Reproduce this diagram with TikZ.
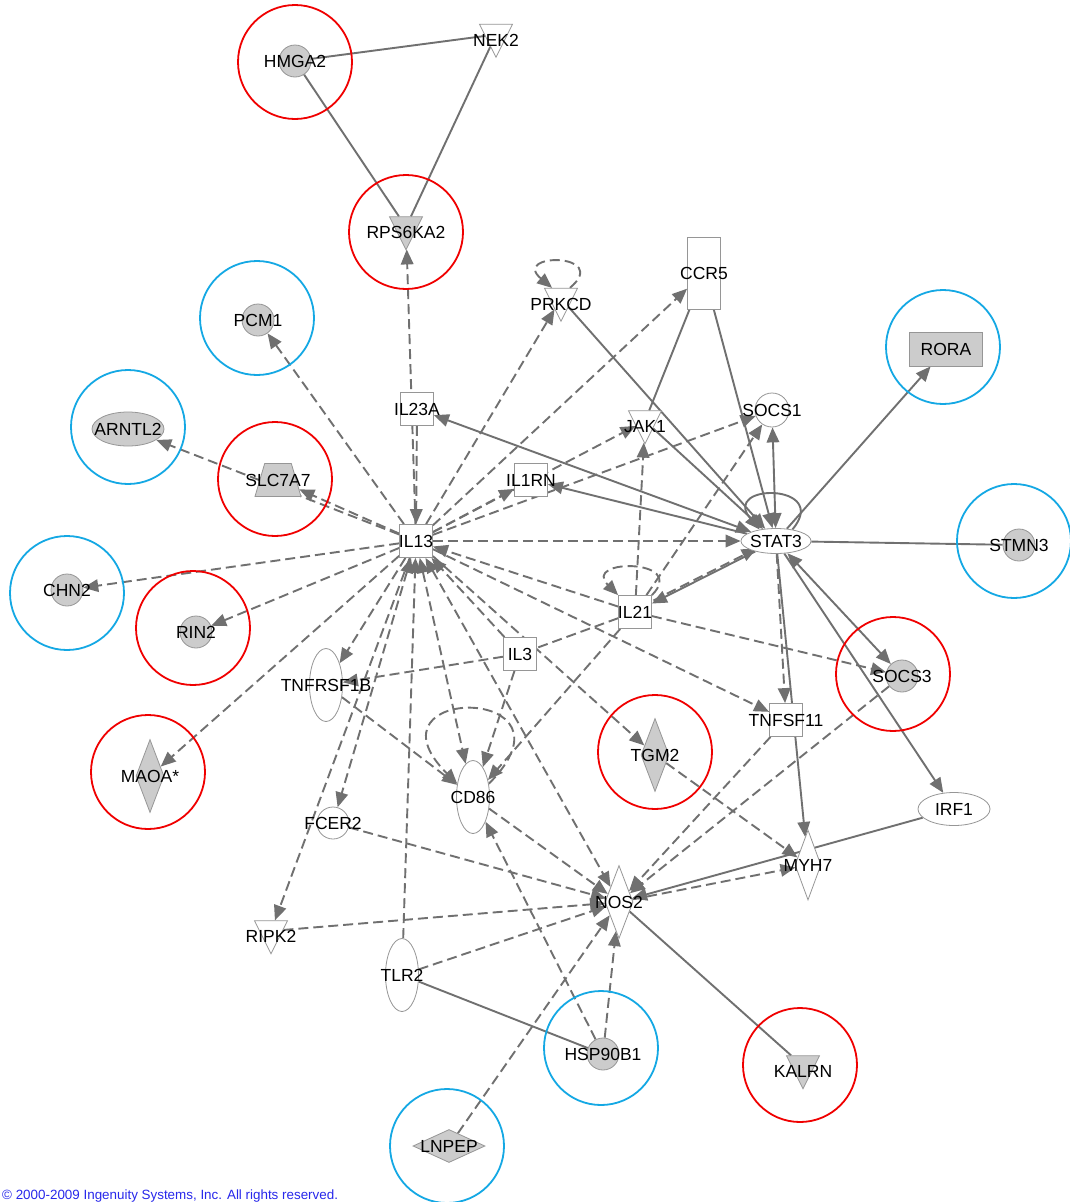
\documentclass[tikz,border=0pt]{standalone}
\usepackage{fontspec}
\setmainfont{Liberation Sans}
\usepackage{tikz}
\usetikzlibrary{arrows.meta,shapes,positioning}
\definecolor{edgegray}{RGB}{112,112,112}
\definecolor{genegray}{RGB}{204,204,204}
\definecolor{nodeline}{RGB}{150,150,150}
\definecolor{ringred}{RGB}{240,0,0}
\definecolor{ringblue}{RGB}{20,168,228}
\definecolor{copyblue}{RGB}{40,40,235}
\pgfdeclarelayer{bg}
\pgfsetlayers{bg,main}
\tikzset{
  gene/.style={draw=nodeline,line width=0.8pt,inner sep=0pt,fill=white},
  shaded/.style={fill=genegray},
  circ/.style={gene,circle,minimum size=32pt},
  box/.style={gene,rectangle,minimum size=33pt},
  tall/.style={gene,ellipse,minimum width=33pt,minimum height=73pt},
  wide/.style={gene,ellipse,minimum width=72pt,minimum height=33pt},
  tri/.style={gene,isosceles triangle,shape border rotate=270,isosceles triangle stretches,minimum width=33pt,minimum height=33pt},
  trilabel/.style={label={[yshift=-5.5pt]center:#1}},
  dia/.style={gene,diamond,minimum width=28pt,minimum height=73pt},
  trap/.style={gene,trapezium,inner sep=1pt,trapezium left angle=70,trapezium right angle=70,trapezium stretches=true,minimum width=46pt,minimum height=33pt},
  ring/.style={circle,draw,line width=1.8pt,minimum size=114pt,inner sep=0pt},
  link/.style={draw=edgegray,line width=1.9pt},
  act/.style={link,-{Triangle[length=15pt,width=12.5pt]}},
  twoway/.style={link,{Triangle[length=15pt,width=12.5pt]}-{Triangle[length=15pt,width=12.5pt]}},
  indirect/.style={dash pattern=on 10pt off 5pt}
}

\begin{document}
\begin{tikzpicture}[x=1pt,y=-1pt,font=\fontsize{17.5}{20}\selectfont]
\begin{pgfonlayer}{bg}
\fill[white](0,0)rectangle(1070,1202);
\end{pgfonlayer}
\useasboundingbox(0,0)rectangle(1070,1202);
% genes
\node[circ,shaded,label=center:HMGA2](hmga2) at (295,61){};
\node[tri,trilabel=NEK2](nek2) at (496,34.5){};
\node[tri,shaded,trilabel=RPS6KA2](rps6ka2) at (406,227){};
\node[circ,shaded,label=center:PCM1](pcm1) at (258,320){};
\node[tri,trilabel=PRKCD](prkcd) at (561,298.5){};
\node[gene,minimum width=33pt,minimum height=72pt,label=center:CCR5](ccr5) at (704,273){};
\node[gene,shaded,minimum width=73pt,minimum height=34pt,label=center:RORA](rora) at (946,349){};
\node[box,label=center:IL23A](il23a) at (417,409){};
\node[tri,trilabel=JAK1](jak1) at (645,421){};
\node[circ,minimum size=34pt,label=center:SOCS1](socs1) at (772,410){};
\node[wide,shaded,minimum height=34pt,label=center:ARNTL2](arntl2) at (128,429){};
\node[trap,shaded,label=center:SLC7A7](slc7a7) at (278,480){};
\node[box,label=center:IL1RN](il1rn) at (531,480){};
\node[box,label=center:IL13](il13) at (416,541){};
\node[gene,ellipse,minimum width=70pt,minimum height=25pt,label=center:STAT3](stat3) at (776,541){};
\node[circ,shaded,label=center:STMN3](stmn3) at (1019,545){};
\node[circ,shaded,label=center:CHN2](chn2) at (67,590){};
\node[circ,shaded,label=center:RIN2](rin2) at (196,632){};
\node[box,label=center:IL21](il21) at (635,612){};
\node[box,label=center:IL3](il3) at (520,654){};
\node[tall,label=center:TNFRSF1B](tnfrsf1b) at (326,685){};
\node[circ,shaded,label=center:SOCS3](socs3) at (902,676){};
\node[box,label=center:TNFSF11](tnfsf11) at (786,720){};
\node[dia,shaded,label=center:TGM2](tgm2) at (655,755){};
\node[dia,shaded,label=center:MAOA*](maoa) at (150,776){};
\node[tall,label=center:CD86](cd86) at (473,797){};
\node[circ,label=center:FCER2](fcer2) at (333,823){};
\node[wide,label=center:IRF1](irf1) at (954,809){};
\node[dia,minimum width=26pt,minimum height=70pt,label=center:MYH7](myh7) at (808,865){};
\node[dia,label=center:NOS2](nos2) at (619,902){};
\node[tri,trilabel=RIPK2](ripk2) at (271,931){};
\node[tall,label=center:TLR2](tlr2) at (402,975){};
\node[circ,shaded,label=center:HSP90B1](hsp90b1) at (603,1054){};
\node[tri,shaded,trilabel=KALRN](kalrn) at (803,1066){};
\node[dia,shaded,minimum width=72pt,minimum height=33pt,label=center:LNPEP](lnpep) at (449,1146){};
% rings
\node[ring,draw=ringred](rhmga2) at (295,62){};
\node[ring,draw=ringred](rrps6ka2) at (406,232){};
\node[ring,draw=ringred](rslc7a7) at (275,479){};
\node[ring,draw=ringred](rrin2) at (193,628){};
\node[ring,draw=ringred](rmaoa) at (148,772){};
\node[ring,draw=ringred](rtgm2) at (655,752){};
\node[ring,draw=ringred](rsocs3) at (893,674){};
\node[ring,draw=ringred](rkalrn) at (800,1065){};
\node[ring,draw=ringblue](rpcm1) at (257,318){};
\node[ring,draw=ringblue](rarntl2) at (128,427){};
\node[ring,draw=ringblue](rrora) at (943,347){};
\node[ring,draw=ringblue](rstmn3) at (1014,541){};
\node[ring,draw=ringblue](rchn2) at (67,593){};
\node[ring,draw=ringblue](rhsp90b1) at (601,1048){};
\node[ring,draw=ringblue](rlnpep) at (447,1146){};
% relations
\begin{pgfonlayer}{bg}
\draw[link](hmga2)--(nek2);
\draw[link](hmga2)--(rps6ka2);
\draw[link](nek2)--(rps6ka2);
\draw[link](ccr5)--(jak1);
\draw[link](stat3)--(stmn3);
\draw[link](tlr2)--(hsp90b1);
\draw[link](nos2)--(kalrn);
\draw[act](prkcd)--(stat3);
\draw[act](ccr5)--(stat3);
\draw[act](jak1)--(stat3);
\draw[twoway](stat3)--(il23a);
\draw[act](stat3)--(il1rn);
\draw[twoway](stat3)--(socs1);
\draw[act](stat3)--(rora);
\draw[act](stat3)--(il21);
\draw[twoway](stat3)--(socs3);
\draw[act](stat3)--(irf1);
\draw[act](stat3)--(myh7);
\draw[act](irf1)--(nos2);
\draw[act](stat3.35)to[out=50,in=130,min distance=61pt](stat3.145);
\draw[act,indirect](il13)--(rps6ka2);
\draw[act,indirect](il23a)--(il13);
\draw[act,indirect](il13)--(pcm1);
\draw[act,indirect](il13)--(arntl2);
\draw[act,indirect](il13)--(slc7a7);
\draw[act,indirect](il13)--(chn2);
\draw[act,indirect](il13)--(rin2);
\draw[act,indirect](il13)--(maoa);
\draw[act,indirect](il13)--(tnfrsf1b);
\draw[twoway,indirect](il13)--(fcer2);
\draw[act,indirect](il13)--(ripk2);
\draw[twoway,indirect](il13)--(cd86);
\draw[twoway,indirect](il13)--(nos2);
\draw[act,indirect](il13)--(tgm2);
\draw[act,indirect](il13)--(tnfsf11);
\draw[act,indirect](il13)--(stat3);
\draw[act,indirect](il13)--(il1rn);
\draw[act,indirect](il13)--(jak1);
\draw[act,indirect](il13)--(socs1);
\draw[act,indirect](il13)--(prkcd);
\draw[act,indirect](il13)--(ccr5);
\draw[act,indirect](il21)--(il13);
\draw[act,indirect](il3)--(il13);
\draw[act,indirect](tlr2)--(il13);
\draw[act,indirect](il21)--(jak1);
\draw[act,indirect](il21)--(socs1);
\draw[act,indirect,transform canvas={xshift=1.5pt,yshift=3pt}](il21)--(stat3);
\draw[link,indirect](il21)--(il3);
\draw[act,indirect](il21)--(socs3);
\draw[act,indirect](il21)--(cd86);
\draw[act,indirect](il21.north east)to[out=45,in=135,min distance=52pt](il21.north west);
\draw[act,indirect](prkcd.50)to[out=40,in=140,min distance=55pt](prkcd.130);
\draw[act,indirect](cd86.40)to[out=45,in=135,min distance=141pt](cd86.140);
\draw[act,indirect](il3)--(tnfrsf1b);
\draw[act,indirect](il3)--(cd86);
\draw[act,indirect](tnfrsf1b)--(cd86);
\draw[act,indirect](cd86)--(nos2);
\draw[act,indirect](fcer2)--(nos2);
\draw[act,indirect](ripk2)--(nos2);
\draw[act,indirect](tlr2)--(nos2);
\draw[act,indirect](lnpep)--(nos2);
\draw[act,indirect](hsp90b1)--(nos2);
\draw[act,indirect](hsp90b1)--(cd86);
\draw[act,indirect](nos2)--(myh7);
\draw[act,indirect](tgm2)--(myh7);
\draw[act,indirect](tnfsf11)--(nos2);
\draw[act,indirect](socs3)--(nos2);
\draw[act,indirect](stat3)--(tnfsf11);
\end{pgfonlayer}
\node[anchor=base west,inner sep=0pt,text=copyblue,font=\fontsize{13.4}{15}\selectfont](copy) at (2,1199){© 2000-2009 Ingenuity Systems, Inc. All rights reserved.};
\end{tikzpicture}
\end{document}
